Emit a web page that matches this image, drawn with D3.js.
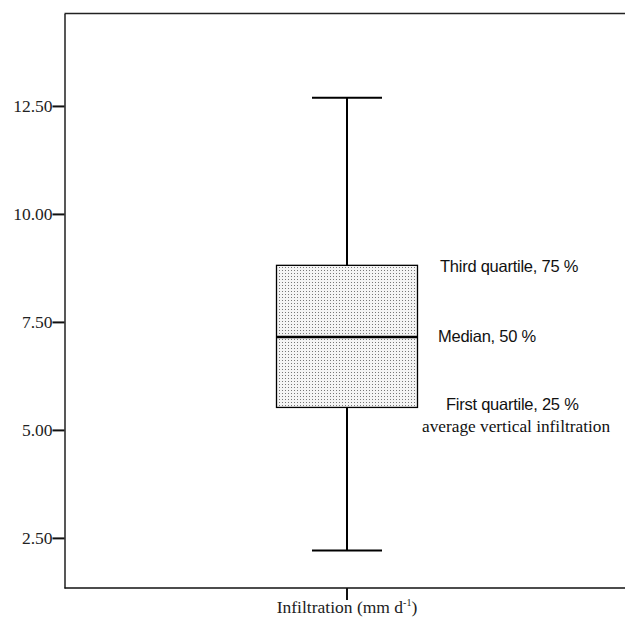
<!DOCTYPE html>
<html>
<head>
<meta charset="utf-8">
<script src="https://cdn.jsdelivr.net/npm/d3@7"></script>
<style>
  html, body { margin: 0; padding: 0; background: white; }
</style>
</head>
<body>
<div id="chart"></div>
<script>
// values
const category = "Infiltration (mm d-1)";
const whiskerLow = 2.21;
const q1 = 5.52;
const median = 7.15;
const q3 = 8.81;
const whiskerHigh = 12.69;
const yTicks = [2.5, 5, 7.5, 10, 12.5];
const labels = [
  { text: "Third quartile, 75 %", value: q3, dx: 22.5, dy: 6.5 },
  { text: "Median, 50 %", value: median, dx: 20.5, dy: 4.7 },
  { text: "First quartile, 25 %", value: q1, dx: 28.5, dy: 2.3 }
];
const note = "average vertical infiltration";

const width = 625;
const height = 619;
const margin = { top: 13.5, right: 0, bottom: 31, left: 64.5 };

const serif = "'Liberation Serif', 'Times New Roman', serif";
const sans = "'Liberation Sans', Arial, sans-serif";

const y = d3
  .scaleLinear()
  .domain([1.34, 14.64])
  .range([height - margin.bottom, margin.top]);

// single category, centred at x ~ 347
const x = d3
  .scalePoint()
  .domain([category])
  .range([margin.left, 629.5])
  .padding(0.5);

const cx = x(category);
const boxW = 141;
const capW = 70;

const svg = d3
  .select("#chart")
  .append("svg")
  .attr("width", width)
  .attr("height", height)
  .attr("viewBox", [0, 0, width, height]);

const defs = svg.append("defs");
const pat = defs
  .append("pattern")
  .attr("id", "dots")
  .attr("width", 3)
  .attr("height", 3)
  .attr("patternUnits", "userSpaceOnUse");
pat.append("rect").attr("width", 3).attr("height", 3).attr("fill", "#f4f4f4");
pat.append("rect").attr("width", 1).attr("height", 1).attr("fill", "#777");

// frame: top and bottom lines
svg.append("line")
  .attr("x1", margin.left).attr("x2", width)
  .attr("y1", margin.top).attr("y2", margin.top)
  .attr("stroke", "#222").attr("stroke-width", 1.3);

svg.append("line")
  .attr("x1", margin.left).attr("x2", width)
  .attr("y1", y.range()[0]).attr("y2", y.range()[0])
  .attr("stroke", "#111").attr("stroke-width", 1.4);

// y axis
const yAxis = svg
  .append("g")
  .attr("transform", `translate(${margin.left},0)`)
  .call(
    d3.axisLeft(y)
      .tickValues(yTicks)
      .tickFormat(d3.format(".2f"))
      .tickSize(12)
      .tickSizeOuter(0)
      .tickPadding(0)
  );
yAxis.select(".domain").attr("stroke", "#111").attr("stroke-width", 1.4);
yAxis.selectAll(".tick line").attr("stroke", "#111").attr("stroke-width", 2);
yAxis.selectAll(".tick text")
  .attr("font-family", serif)
  .attr("font-size", 17.5)
  .attr("fill", "#222");

// x tick + label
svg.append("line")
  .attr("x1", cx).attr("x2", cx)
  .attr("y1", y.range()[0]).attr("y2", y.range()[0] + 12)
  .attr("stroke", "#111").attr("stroke-width", 2);

const xl = svg.append("text")
  .attr("x", cx)
  .attr("y", 613)
  .attr("text-anchor", "middle")
  .attr("font-family", serif)
  .attr("font-size", 17.5)
  .attr("fill", "#222");
xl.append("tspan").text("Infiltration (mm d");
xl.append("tspan").attr("dy", -7).attr("font-size", 10).text("-1");
xl.append("tspan").attr("dy", 7).text(")");

// whisker
svg.append("line")
  .attr("x1", cx).attr("x2", cx)
  .attr("y1", y(whiskerLow)).attr("y2", y(whiskerHigh))
  .attr("stroke", "#000").attr("stroke-width", 2);

svg.selectAll(".cap")
  .data([whiskerLow, whiskerHigh])
  .join("line")
  .attr("class", "cap")
  .attr("x1", cx - capW / 2).attr("x2", cx + capW / 2)
  .attr("y1", (d) => y(d)).attr("y2", (d) => y(d))
  .attr("stroke", "#000").attr("stroke-width", 2);

// box
svg.append("rect")
  .attr("x", cx - boxW / 2)
  .attr("y", y(q3))
  .attr("width", boxW)
  .attr("height", y(q1) - y(q3))
  .attr("fill", "url(#dots)")
  .attr("stroke", "#000")
  .attr("stroke-width", 1.3);

svg.append("line")
  .attr("x1", cx - boxW / 2).attr("x2", cx + boxW / 2)
  .attr("y1", y(median)).attr("y2", y(median))
  .attr("stroke", "#000").attr("stroke-width", 2.5);

// annotations
svg.selectAll(".lab")
  .data(labels)
  .join("text")
  .attr("class", "lab")
  .attr("x", (d) => cx + boxW / 2 + d.dx)
  .attr("y", (d) => y(d.value) + d.dy)
  .attr("font-family", sans)
  .attr("font-size", 16.5)
  .attr("letter-spacing", -0.25)
  .attr("fill", "#111")
  .text((d) => d.text);

svg.append("text")
  .attr("x", 422)
  .attr("y", 432)
  .attr("font-family", serif)
  .attr("font-size", 17.3)
  .attr("fill", "#111")
  .text(note);
</script>
</body>
</html>
